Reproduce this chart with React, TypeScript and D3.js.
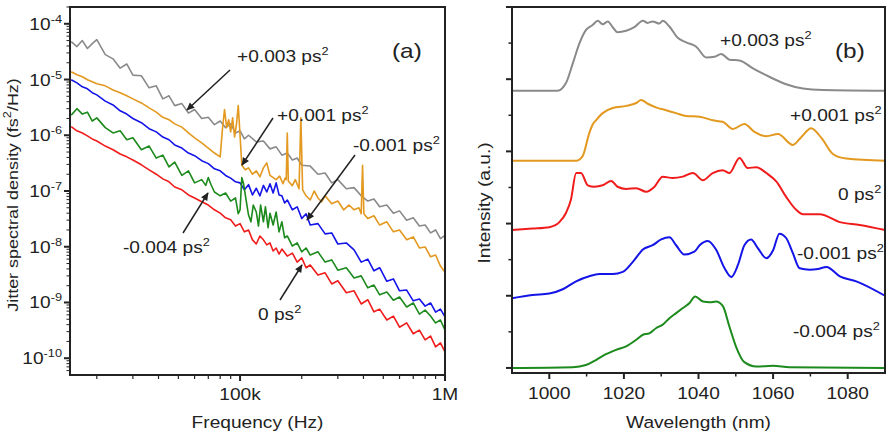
import * as d3 from "d3";

const FONT = "'Liberation Sans', Arial, sans-serif";
const INK = "#222";

// (a) jitter spectral density, [frequency (Hz), PSD (fs²/Hz)]
const psdPlus003: [number, number][] = [
  [15e3, 4.8e-5], [16e3, 3.9e-5], [17e3, 5.0e-5], [18e3, 3.6e-5], [19e3, 4.4e-5], [20e3, 5.2e-5],
  [22e3, 2.8e-5], [24e3, 2.35e-5], [26e3, 1.6e-5], [28e3, 1.9e-5], [30e3, 1.2e-5], [33e3, 1.17e-5],
  [36e3, 7.1e-6], [39e3, 7.7e-6], [42e3, 4.5e-6], [45e3, 5.1e-6], [48e3, 3.4e-6], [52e3, 3.7e-6],
  [56e3, 2.5e-6], [60e3, 2.9e-6], [65e3, 2.0e-6], [70e3, 2.1e-6], [75e3, 1.55e-6], [80e3, 1.8e-6],
  [85e3, 1.37e-6], [90e3, 1.6e-6], [95e3, 1.1e-6], [100e3, 1.2e-6], [105e3, 8.6e-7], [110e3, 1.0e-6],
  [120e3, 7.6e-7], [130e3, 7.9e-7], [140e3, 5.7e-7], [150e3, 6.2e-7], [160e3, 4.4e-7], [170e3, 4.8e-7],
  [180e3, 3.6e-7], [190e3, 3.9e-7], [200e3, 2.9e-7], [220e3, 2.8e-7], [240e3, 2.0e-7], [260e3, 2.1e-7],
  [280e3, 1.4e-7], [300e3, 1.6e-7], [330e3, 1.1e-7], [360e3, 1.15e-7], [390e3, 8.2e-8], [420e3, 6.6e-8],
  [450e3, 7.2e-8], [480e3, 5.2e-8], [520e3, 5.6e-8], [560e3, 4.0e-8], [600e3, 4.4e-8], [650e3, 3.0e-8],
  [700e3, 3.3e-8], [750e3, 2.35e-8], [800e3, 2.45e-8], [850e3, 1.77e-8], [900e3, 2.0e-8], [950e3, 1.4e-8],
  [1e6, 1.6e-8],
];

const psdPlus001: [number, number][] = [
  [15e3, 1.38e-5], [16e3, 1.22e-5], [17e3, 1.12e-5], [18e3, 9.9e-6], [19e3, 9.1e-6], [20e3, 8.4e-6],
  [22e3, 7.7e-6], [24e3, 6.5e-6], [26e3, 5.8e-6], [28e3, 5.1e-6], [30e3, 4.5e-6], [33e3, 3.8e-6],
  [36e3, 3.1e-6], [39e3, 2.6e-6], [42e3, 2.1e-6], [45e3, 1.9e-6], [48e3, 1.6e-6], [52e3, 1.4e-6],
  [56e3, 1.1e-6], [60e3, 9.0e-7], [65e3, 7.3e-7], [70e3, 5.9e-7], [75e3, 4.8e-7], [80e3, 4.1e-7],
  [82e3, 1.26e-6], [84e3, 2.9e-6], [86e3, 1.37e-6], [88e3, 1.9e-6], [90e3, 1.15e-6], [92e3, 2.05e-6],
  [94e3, 9.3e-7], [96e3, 1.55e-6], [98e3, 3.4e-6], [100e3, 1.0e-6], [102e3, 2.9e-7], [106e3, 2.4e-7],
  [110e3, 2.6e-7], [115e3, 2.0e-7], [120e3, 2.3e-7], [125e3, 1.8e-7], [130e3, 2.6e-7], [135e3, 3.2e-7],
  [140e3, 1.9e-7], [150e3, 1.6e-7], [156e3, 1.85e-7], [162e3, 1.35e-7], [166e3, 1.7e-7], [168e3, 1.6e-7],
  [170e3, 1.1e-6], [172e3, 1.5e-7], [180e3, 1.25e-7], [186e3, 1.6e-7], [194e3, 1.1e-7], [198e3, 2.05e-6],
  [202e3, 1.05e-7], [210e3, 8.2e-8], [220e3, 6.9e-8], [230e3, 1.0e-7], [240e3, 7.5e-8], [250e3, 6.4e-8],
  [260e3, 8.2e-8], [280e3, 5.9e-8], [300e3, 6.6e-8], [320e3, 4.6e-8], [340e3, 5.6e-8], [360e3, 4.6e-8],
  [380e3, 5.0e-8], [390e3, 3.9e-8], [396e3, 2.9e-7], [402e3, 3.9e-8], [420e3, 3.2e-8], [450e3, 3.6e-8],
  [480e3, 2.45e-8], [520e3, 2.8e-8], [560e3, 1.85e-8], [600e3, 2.0e-8], [650e3, 1.33e-8], [700e3, 1.5e-8],
  [750e3, 9.5e-9], [800e3, 9.9e-9], [850e3, 6.6e-9], [900e3, 7.1e-9], [950e3, 4.5e-9], [1e6, 3.5e-9],
];

const psdMinus001: [number, number][] = [
  [15e3, 9.9e-6], [16e3, 8.7e-6], [17e3, 7.4e-6], [18e3, 6.8e-6], [19e3, 5.8e-6], [20e3, 5.3e-6],
  [22e3, 4.1e-6], [24e3, 3.5e-6], [26e3, 2.75e-6], [28e3, 2.4e-6], [30e3, 2.0e-6], [33e3, 1.68e-6],
  [36e3, 1.31e-6], [39e3, 1.15e-6], [42e3, 9.3e-7], [45e3, 8.3e-7], [48e3, 6.7e-7], [52e3, 5.9e-7],
  [56e3, 4.8e-7], [60e3, 4.3e-7], [65e3, 3.5e-7], [70e3, 3.1e-7], [75e3, 2.5e-7], [80e3, 2.3e-7],
  [85e3, 1.9e-7], [90e3, 1.7e-7], [95e3, 1.46e-7], [100e3, 1.4e-7], [105e3, 1.05e-7], [110e3, 1.3e-7],
  [115e3, 8.5e-8], [120e3, 1.12e-7], [125e3, 8.2e-8], [130e3, 1.26e-7], [135e3, 9.6e-8], [140e3, 1.35e-7],
  [145e3, 9.2e-8], [150e3, 1.4e-7], [155e3, 8.5e-8], [160e3, 8.2e-8], [165e3, 6.1e-8], [170e3, 6.9e-8],
  [180e3, 4.6e-8], [190e3, 5.2e-8], [200e3, 3.2e-8], [210e3, 3.9e-8], [220e3, 2.45e-8], [240e3, 2.6e-8],
  [260e3, 1.7e-8], [280e3, 1.77e-8], [300e3, 1.12e-8], [330e3, 1.17e-8], [360e3, 8.8e-9], [390e3, 5.3e-9],
  [420e3, 6.0e-9], [450e3, 3.7e-9], [480e3, 4.2e-9], [520e3, 2.4e-9], [560e3, 2.65e-9], [600e3, 1.62e-9],
  [650e3, 1.67e-9], [700e3, 1.07e-9], [750e3, 1.15e-9], [800e3, 8.6e-10], [850e3, 9.8e-10], [900e3, 6.7e-10],
  [950e3, 7.6e-10], [1e6, 5.5e-10],
];

const psdMinus004: [number, number][] = [
  [15e3, 2.3e-6], [16e3, 3.0e-6], [17e3, 2.4e-6], [18e3, 2.6e-6], [19e3, 1.8e-6], [20e3, 2.05e-6],
  [22e3, 1.37e-6], [24e3, 1.1e-6], [26e3, 1.2e-6], [28e3, 8.3e-7], [30e3, 9.0e-7], [33e3, 5.5e-7],
  [36e3, 6.4e-7], [39e3, 3.9e-7], [42e3, 4.4e-7], [45e3, 2.7e-7], [48e3, 3.3e-7], [52e3, 1.9e-7],
  [56e3, 2.3e-7], [60e3, 1.4e-7], [65e3, 1.6e-7], [68e3, 1.26e-7], [70e3, 1.74e-7], [72e3, 1.32e-7],
  [75e3, 9.6e-8], [80e3, 8.2e-8], [85e3, 9.2e-8], [90e3, 6.6e-8], [95e3, 7.5e-8], [98e3, 3.9e-8],
  [100e3, 4.6e-8], [102e3, 1.74e-7], [104e3, 1.35e-7], [107e3, 6.9e-8], [110e3, 3.7e-8], [113e3, 2.8e-8],
  [116e3, 5.6e-8], [120e3, 4.2e-8], [123e3, 2.35e-8], [126e3, 5.6e-8], [130e3, 2.8e-8], [133e3, 5.2e-8],
  [137e3, 2.2e-8], [140e3, 4.0e-8], [145e3, 2.45e-8], [150e3, 4.2e-8], [155e3, 1.85e-8], [160e3, 2.8e-8],
  [165e3, 1.45e-8], [170e3, 1.56e-8], [180e3, 1.03e-8], [190e3, 1.17e-8], [200e3, 8.1e-9], [210e3, 9.5e-9],
  [220e3, 7.1e-9], [240e3, 8.1e-9], [260e3, 5.3e-9], [280e3, 5.8e-9], [300e3, 3.8e-9], [330e3, 4.2e-9],
  [360e3, 2.75e-9], [390e3, 3.0e-9], [420e3, 1.83e-9], [450e3, 2.05e-9], [480e3, 1.37e-9], [520e3, 1.54e-9],
  [560e3, 1.1e-9], [600e3, 1.25e-9], [650e3, 8.3e-10], [700e3, 9.8e-10], [750e3, 6.2e-10], [800e3, 7.3e-10],
  [850e3, 5.7e-10], [900e3, 4.3e-10], [950e3, 4.85e-10], [1e6, 3.2e-10],
];

const psdZero: [number, number][] = [
  [15e3, 1.43e-6], [16e3, 1.2e-6], [17e3, 1.1e-6], [18e3, 9.75e-7], [19e3, 8.6e-7], [20e3, 7.9e-7],
  [22e3, 6.4e-7], [24e3, 5.5e-7], [26e3, 4.6e-7], [28e3, 4.1e-7], [30e3, 3.6e-7], [33e3, 2.95e-7],
  [36e3, 2.4e-7], [39e3, 2.0e-7], [42e3, 1.65e-7], [45e3, 1.46e-7], [48e3, 1.18e-7], [52e3, 1.05e-7],
  [56e3, 8.5e-8], [60e3, 7.5e-8], [65e3, 6.4e-8], [70e3, 5.6e-8], [75e3, 4.6e-8], [80e3, 4.0e-8],
  [85e3, 3.3e-8], [90e3, 3.05e-8], [95e3, 2.35e-8], [100e3, 2.6e-8], [105e3, 1.85e-8], [110e3, 2.0e-8],
  [115e3, 1.33e-8], [120e3, 1.12e-8], [125e3, 1.56e-8], [130e3, 1.33e-8], [135e3, 1.08e-8], [140e3, 1.17e-8],
  [145e3, 8.4e-9], [150e3, 9.5e-9], [155e3, 7.4e-9], [160e3, 9.1e-9], [170e3, 6.8e-9], [180e3, 7.7e-9],
  [190e3, 5.3e-9], [200e3, 6.3e-9], [210e3, 4.2e-9], [220e3, 4.7e-9], [240e3, 3.1e-9], [260e3, 3.4e-9],
  [280e3, 2.15e-9], [300e3, 2.45e-9], [330e3, 1.5e-9], [360e3, 1.62e-9], [390e3, 9.4e-10], [420e3, 1.12e-9],
  [450e3, 6.8e-10], [480e3, 7.6e-10], [520e3, 4.85e-10], [560e3, 5.7e-10], [600e3, 3.6e-10], [650e3, 4.3e-10],
  [700e3, 2.75e-10], [750e3, 3.2e-10], [800e3, 2.13e-10], [850e3, 2.5e-10], [900e3, 1.6e-10], [950e3, 1.88e-10],
  [1e6, 1.3e-10],
];

// (b) optical spectra, [wavelength (nm), intensity (a.u., stacked)]
const specPlus003: [number, number][] = [
  [990, 3.84], [1002.2, 3.84], [1004.5, 3.95], [1006.3, 4.22], [1008.1, 4.5], [1009.8, 4.68], [1011.6, 4.75],
  [1013, 4.81], [1014.3, 4.76], [1015.7, 4.8], [1017, 4.72], [1018.3, 4.65], [1020.6, 4.67], [1022.8, 4.72],
  [1025.1, 4.81], [1026.4, 4.78], [1027.7, 4.8], [1029.5, 4.77], [1030.4, 4.81], [1032.2, 4.73], [1034.5, 4.57],
  [1036.7, 4.51], [1039.4, 4.45], [1042.1, 4.3], [1044.3, 4.31], [1046.1, 4.35], [1048.3, 4.27], [1051, 4.26],
  [1054.6, 4.15], [1059.1, 4.03], [1063.5, 3.93], [1068, 3.87], [1073.4, 3.85], [1090, 3.84],
];

const specPlus001: [number, number][] = [
  [990, 2.87], [1007.2, 2.87], [1008.9, 2.93], [1010.7, 3.25], [1011.6, 3.37], [1012.5, 3.43], [1014.3, 3.53],
  [1017, 3.6], [1020.6, 3.63], [1023.3, 3.67], [1024.6, 3.71], [1026.4, 3.66], [1028.6, 3.61], [1031.3, 3.57],
  [1034, 3.53], [1036.7, 3.49], [1040.3, 3.48], [1043.8, 3.43], [1046.5, 3.41], [1049.2, 3.31], [1052.3, 3.38],
  [1055, 3.27], [1058.2, 3.21], [1061.3, 3.24], [1065.3, 3.09], [1067.6, 3.2], [1070.2, 3.32], [1072.9, 3.19],
  [1076.1, 2.96], [1079.6, 2.9], [1090, 2.87],
];

const specZero: [number, number][] = [
  [990, 1.91], [995.5, 1.93], [1000, 1.95], [1002.7, 2.02], [1004.5, 2.15], [1005.8, 2.33], [1007.2, 2.7],
  [1008.5, 2.7], [1010.3, 2.53], [1012.1, 2.51], [1014.3, 2.53], [1016.6, 2.59], [1018.3, 2.51], [1020.6, 2.48],
  [1023.3, 2.49], [1026, 2.44], [1028.2, 2.51], [1030.4, 2.65], [1033.1, 2.63], [1035.8, 2.65], [1038.5, 2.7],
  [1041.2, 2.6], [1043.8, 2.7], [1046.5, 2.74], [1048.3, 2.7], [1051, 2.91], [1053.2, 2.77], [1055.5, 2.78],
  [1058.2, 2.7], [1060.9, 2.58], [1063.5, 2.37], [1066.2, 2.19], [1068, 2.13], [1072.5, 2.13], [1077.9, 2.02],
  [1083.2, 1.98], [1090, 1.91],
];

const specMinus001: [number, number][] = [
  [990, 0.965], [995.5, 1.01], [1000, 1.03], [1003.6, 1.09], [1007.2, 1.2], [1010.7, 1.27], [1013.4, 1.3],
  [1017, 1.3], [1019.7, 1.33], [1022.4, 1.47], [1025.1, 1.64], [1027.7, 1.7], [1030, 1.78], [1032.2, 1.81],
  [1034, 1.7], [1036.2, 1.57], [1038.9, 1.61], [1040.3, 1.7], [1042.5, 1.76], [1044.7, 1.64], [1047, 1.38],
  [1048.8, 1.26], [1050.6, 1.43], [1052.3, 1.7], [1054.1, 1.78], [1055.9, 1.66], [1058.2, 1.52], [1060, 1.63],
  [1061.7, 1.86], [1063.5, 1.8], [1065.3, 1.59], [1067.1, 1.38], [1069.8, 1.36], [1072, 1.37], [1074.3, 1.4],
  [1077.9, 1.27], [1082.3, 1.2], [1090, 1.0],
];

const specMinus004: [number, number][] = [
  [990, 0], [1006.3, 0.01], [1009.8, 0.04], [1012.5, 0.11], [1015.2, 0.19], [1017.9, 0.25], [1020.6, 0.3],
  [1023.3, 0.39], [1025.1, 0.46], [1026.8, 0.48], [1028.6, 0.55], [1030.4, 0.6], [1032.2, 0.69], [1034, 0.76],
  [1035.8, 0.83], [1037.6, 0.9], [1039.1, 0.99], [1041.2, 0.92], [1043, 0.91], [1044.7, 0.92], [1046.5, 0.86],
  [1048.3, 0.57], [1050.1, 0.29], [1052.3, 0.08], [1055.5, 0.02], [1060, 0.03], [1064.4, 0.01], [1090, 0],
];

const freqMajor = [1e5, 1e6];
const freqMajorLabels = ["100k", "1M"];
const psdMajor = [1e-4, 1e-5, 1e-6, 1e-7, 1e-8, 1e-9, 1e-10];
const psdMajorExp = ["-4", "-5", "-6", "-7", "-8", "-9", "-10"];
const wlTicks = [1000, 1020, 1040, 1060, 1080];
const wlMinor = [1010, 1030, 1050, 1070];
const intTicks = [0, 1, 2, 3, 4, 5];
const intMinor = [0.5, 1.5, 2.5, 3.5, 4.5];

const GRAY = "#8a8a8a";
const ORANGE = "#e3981f";
const BLUE = "#1414e8";
const GREEN = "#1c8a1c";
const RED = "#f01c1c";

const leftSeries = [
  { data: psdPlus003, color: GRAY },
  { data: psdPlus001, color: ORANGE },
  { data: psdMinus001, color: BLUE },
  { data: psdMinus004, color: GREEN },
  { data: psdZero, color: RED },
];
const rightSeries = [
  { data: specPlus003, color: GRAY },
  { data: specPlus001, color: ORANGE },
  { data: specZero, color: RED },
  { data: specMinus001, color: BLUE },
  { data: specMinus004, color: GREEN },
];

function Label({ x, y, size = 16.5, anchor = "start", rotate = 0, children }: any) {
  return (
    <g transform={`translate(${x},${y}) rotate(${rotate}) scale(1.16,1)`}>
      <text textAnchor={anchor} fontSize={size} fontFamily={FONT} fill={INK}>
        {children}
      </text>
    </g>
  );
}

const Sup = ({ t }: { t: string }) => (
  <tspan dy={-7} fontSize={11}>
    {t}
  </tspan>
);

export default function App() {
  // panel (a)
  const ax = d3.scaleLog().domain([14800, 1e6]).range([70, 445]);
  const ay = d3.scaleLog().domain([5e-11, 2e-4]).range([375, 7]);
  const aLine = d3
    .line<[number, number]>()
    .x((d) => ax(d[0]))
    .y((d) => ay(d[1]));

  const xMinor: number[] = [];
  [1e4, 1e5].forEach((dec) => {
    for (let k = 2; k <= 9; k++) if (k * dec >= 14800) xMinor.push(k * dec);
  });
  const yMinor: number[] = [];
  [1e-11, 1e-10, 1e-9, 1e-8, 1e-7, 1e-6, 1e-5, 1e-4].forEach((dec) => {
    for (let k = 2; k <= 9; k++) {
      const v = k * dec;
      if (v >= 5e-11 && v <= 2e-4) yMinor.push(v);
    }
  });

  // panel (b)
  const bx = d3.scaleLinear().domain([990, 1090]).range([512, 885]);
  const by = d3.scaleLinear().domain([-0.07, 5]).range([373, 7]);
  const bLine = d3
    .line<[number, number]>()
    .x((d) => bx(d[0]))
    .y((d) => by(d[1]))
    .curve(d3.curveMonotoneX);

  const arrows = [
    [230, 70, 187, 110],
    [273, 118, 242, 165],
    [355, 155, 307, 220],
    [183, 233, 208, 193],
    [280, 300, 302, 265],
  ];

  return (
    <svg width={895} height={434} style={{ display: "block", position: "absolute", left: 0, top: 0, background: "#fff" }}>
      <defs>
        <marker id="arr" viewBox="0 0 10 10" refX={9} refY={5} markerWidth={9} markerHeight={8} markerUnits="userSpaceOnUse" orient="auto">
          <path d="M0,0.5 L10,5 L0,9.5 z" fill={INK} />
        </marker>
      </defs>

      {/* ---- panel (a) ---- */}
      {leftSeries.map((s, i) => (
        <path key={i} d={aLine(s.data) || ""} fill="none" stroke={s.color} strokeWidth={1.6} strokeLinejoin="round" />
      ))}
      <rect x={70} y={7} width={375} height={368} fill="none" stroke={INK} strokeWidth={2} />
      {psdMajor.map((v, i) => (
        <g key={i}>
          <line x1={64} x2={70} y1={ay(v)} y2={ay(v)} stroke={INK} strokeWidth={2} />
          <Label x={62} y={ay(v) + 6} anchor="end">
            10<Sup t={psdMajorExp[i]} />
          </Label>
        </g>
      ))}
      {yMinor.map((v, i) => (
        <line key={i} x1={66.5} x2={70} y1={ay(v)} y2={ay(v)} stroke={INK} strokeWidth={1} />
      ))}
      {freqMajor.map((v, i) => (
        <g key={i}>
          <line x1={ax(v)} x2={ax(v)} y1={375} y2={381} stroke={INK} strokeWidth={2} />
          <Label x={ax(v)} y={400} anchor="middle">
            {freqMajorLabels[i]}
          </Label>
        </g>
      ))}
      {xMinor.map((v, i) => (
        <line key={i} x1={ax(v)} x2={ax(v)} y1={375} y2={379} stroke={INK} strokeWidth={1.2} />
      ))}
      <Label x={257.5} y={428} anchor="middle">
        Frequency (Hz)
      </Label>
      <Label x={18} y={195} anchor="middle" rotate={-90} size={15.5}>
        Jitter spectral density  (fs<Sup t="2" />
        <tspan dy={7}>/Hz)</tspan>
      </Label>

      {arrows.map((a, i) => (
        <line key={i} x1={a[0]} y1={a[1]} x2={a[2]} y2={a[3]} stroke={INK} strokeWidth={1.5} markerEnd="url(#arr)" />
      ))}
      <Label x={237} y={62}>
        +0.003 ps<Sup t="2" />
      </Label>
      <Label x={277} y={121}>
        +0.001 ps<Sup t="2" />
      </Label>
      <Label x={353} y={151}>
        -0.001 ps<Sup t="2" />
      </Label>
      <Label x={123} y={253}>
        -0.004 ps<Sup t="2" />
      </Label>
      <Label x={258} y={320}>
        0 ps<Sup t="2" />
      </Label>
      <Label x={392} y={58} size={21}>
        (a)
      </Label>

      {/* ---- panel (b) ---- */}
      {rightSeries.map((s, i) => (
        <path key={i} d={bLine(s.data) || ""} fill="none" stroke={s.color} strokeWidth={2} strokeLinejoin="round" />
      ))}
      <rect x={512} y={7} width={373} height={366} fill="none" stroke={INK} strokeWidth={2} />
      {intTicks.map((v) => (
        <line key={v} x1={506} x2={512} y1={by(v)} y2={by(v)} stroke={INK} strokeWidth={2} />
      ))}
      {intMinor.map((v) => (
        <line key={v} x1={508.5} x2={512} y1={by(v)} y2={by(v)} stroke={INK} strokeWidth={1.5} />
      ))}
      {wlTicks.map((v) => (
        <g key={v}>
          <line x1={bx(v)} x2={bx(v)} y1={373} y2={379} stroke={INK} strokeWidth={2} />
          <Label x={bx(v)} y={399} anchor="middle">
            {v}
          </Label>
        </g>
      ))}
      {wlMinor.map((v) => (
        <line key={v} x1={bx(v)} x2={bx(v)} y1={373} y2={376.5} stroke={INK} strokeWidth={1.5} />
      ))}
      <Label x={698.5} y={428} anchor="middle">
        Wavelength (nm)
      </Label>
      <Label x={490} y={203} anchor="middle" rotate={-90}>
        Intensity (a.u.)
      </Label>
      <Label x={720} y={46}>
        +0.003 ps<Sup t="2" />
      </Label>
      <Label x={790} y={121}>
        +0.001 ps<Sup t="2" />
      </Label>
      <Label x={838} y={200}>
        0 ps<Sup t="2" />
      </Label>
      <Label x={797} y={259}>
        -0.001 ps<Sup t="2" />
      </Label>
      <Label x={793} y={337}>
        -0.004 ps<Sup t="2" />
      </Label>
      <Label x={835} y={58} size={21}>
        (b)
      </Label>
    </svg>
  );
}
